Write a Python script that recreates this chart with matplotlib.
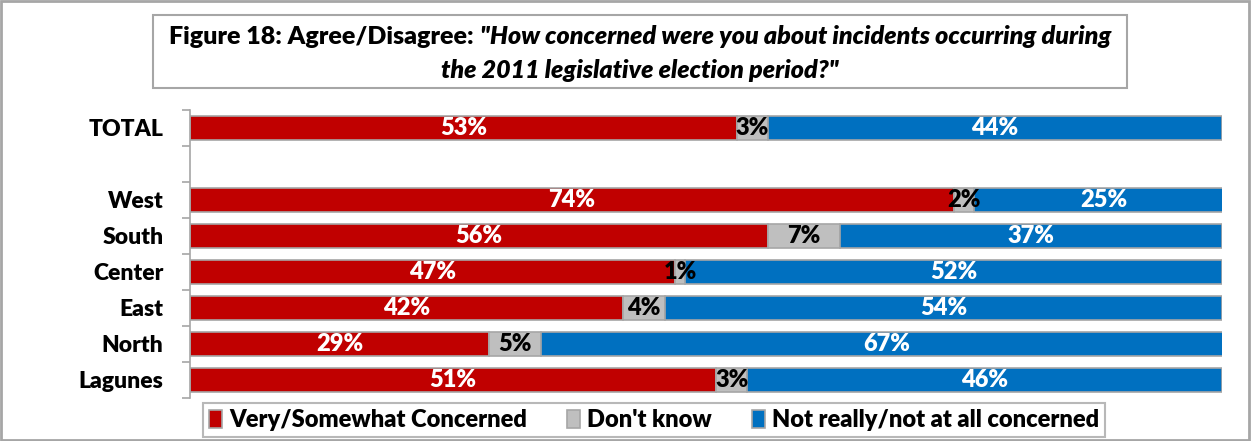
import matplotlib.pyplot as plt
from matplotlib.patches import Rectangle
import numpy as np

plt.rcParams['font.family'] = ['Lato', 'DejaVu Sans']

# survey shares per region, in percent
regions = ['TOTAL', 'West', 'South', 'Center', 'East', 'North', 'Lagunes']
concerned = [53, 74, 56, 47, 42, 29, 51]
dont_know = [3, 2, 7, 1, 4, 5, 3]
not_concerned = [44, 25, 37, 52, 54, 67, 46]

series = ['Very/Somewhat Concerned', "Don't know", 'Not really/not at all concerned']
colors = ['#C00000', '#BFBFBF', '#0070C0']
text_colors = ['white', 'black', 'white']

W, H = 1252, 441
fig = plt.figure(figsize=(W / 100, H / 100), dpi=100)
ax = fig.add_axes([190 / W, 1 - 398 / H, 1032 / W, 288 / H])

# row positions, one blank row after TOTAL
ypos = np.array([0, 2, 3, 4, 5, 6, 7])

left = np.zeros(len(regions))
for vals, name, col, tcol in zip([concerned, dont_know, not_concerned], series, colors, text_colors):
    vals = np.array(vals, dtype=float)
    ax.barh(ypos, vals, left=left, height=0.67, color=col,
            edgecolor='#A6A6A6', linewidth=1.2, label=name)
    for y, l, v in zip(ypos, left, vals):
        ax.text(l + v / 2, y, f'{int(v)}%', ha='center', va='center',
                color=tcol, fontsize=17, fontweight='heavy')
    left += vals

ax.set_xlim(0, 100)
ax.set_ylim(7.5, -0.5)
ax.set_yticks(ypos)
ax.set_yticklabels(regions, fontsize=16.5, fontweight='heavy')
ax.tick_params(axis='y', which='major', length=0, pad=19)
ax.set_yticks(np.arange(-0.5, 8, 1), minor=True)
ax.tick_params(axis='y', which='minor', length=6, color='#A6A6A6', width=1.2)
ax.set_xticks([])
for s in ['top', 'right', 'bottom']:
    ax.spines[s].set_visible(False)
ax.spines['left'].set_color('#A6A6A6')
ax.spines['left'].set_linewidth(1.2)

# title box
fig.patches.append(Rectangle((153 / W, 1 - 88 / H), 974 / W, 73 / H,
                             transform=fig.transFigure, fill=False,
                             edgecolor='#A6A6A6', linewidth=1.5))

# first title line: upright lead-in followed by the italic question
r = fig.canvas.get_renderer()
tsize = 18
a = fig.text(0, 1 - 37 / H, 'Figure 18: Agree/Disagree: ', va='center',
             fontsize=tsize, fontweight='heavy')
b = fig.text(0, 1 - 37 / H, '"How concerned were you about incidents occurring during',
             va='center', fontsize=tsize, fontweight='heavy', fontstyle='italic')
wa = a.get_window_extent(r).width
wb = b.get_window_extent(r).width
x0 = 640 - (wa + wb) / 2
a.set_x(x0 / W)
b.set_x((x0 + wa) / W)
fig.text(640 / W, 1 - 70 / H, 'the 2011 legislative election period?"', ha='center',
         va='center', fontsize=tsize, fontweight='heavy', fontstyle='italic')

# legend box
leg = fig.legend(loc='center', bbox_to_anchor=(654 / W, 1 - 420 / H), ncol=3,
                 frameon=True, fancybox=False, edgecolor='#A6A6A6',
                 prop={'size': 17, 'weight': 'heavy'}, handlelength=0.55,
                 handleheight=0.8, handletextpad=0.3, columnspacing=1.7,
                 borderpad=0.25, borderaxespad=0)
leg.get_frame().set_linewidth(1.5)

# outer chart border
fig.patches.append(Rectangle((0.001, 0.002), 0.997, 0.996, transform=fig.transFigure,
                             fill=False, edgecolor='#A6A6A6', linewidth=2))

fig.savefig('out.png', dpi=100)
